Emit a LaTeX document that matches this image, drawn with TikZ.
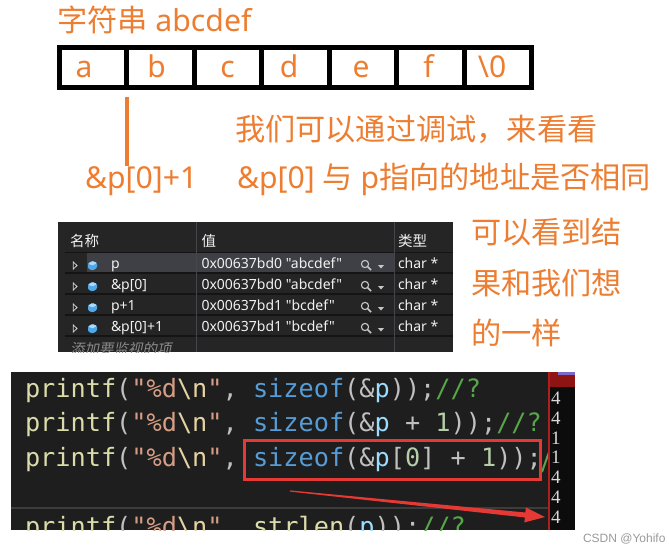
\documentclass[tikz,border=0pt]{standalone}
\usepackage{fontspec}
\setmainfont{Noto Sans}
\setmonofont{DejaVu Sans Mono}
\newfontfamily\uifont{Noto Sans}
\newfontfamily\zhfont{Noto Sans CJK SC}
\newfontfamily\zhit[FakeSlant=0.2]{Noto Sans CJK SC}
\newfontfamily\serifd{Liberation Serif}
\newfontfamily\csdnfont{Liberation Sans}
\usetikzlibrary{calc}
\definecolor{orangec}{HTML}{ED7D31}
\definecolor{wbg}{HTML}{252526}
\definecolor{whl}{HTML}{3F3F46}
\definecolor{wline}{HTML}{141414}
\definecolor{wsep}{HTML}{45454B}
\definecolor{wtext}{HTML}{F1F1F1}
\definecolor{wdim}{HTML}{8A8A8A}
\definecolor{iconb}{HTML}{4FA8E8}
\definecolor{iconl}{HTML}{A8DAFF}
\definecolor{magc}{HTML}{C8C8C8}
\definecolor{codebg}{HTML}{1E1E1E}
\definecolor{sepc}{HTML}{3C3C3C}
\definecolor{cfn}{HTML}{DCDCAA}
\definecolor{cpun}{HTML}{C0C0C0}
\definecolor{cstr}{HTML}{D69D85}
\definecolor{cesc}{HTML}{E6D3A3}
\definecolor{ckw}{HTML}{569CD6}
\definecolor{cvar}{HTML}{9CDCFE}
\definecolor{cnum}{HTML}{B5CEA8}
\definecolor{ccom}{HTML}{57A64A}
\definecolor{redc}{HTML}{E53935}
\definecolor{outbg}{HTML}{0C0C0C}
\definecolor{outred}{HTML}{8E1414}
\definecolor{outpur}{HTML}{7B68C8}
\definecolor{outline}{HTML}{B01E1E}
\definecolor{digc}{HTML}{D8D8D8}
\definecolor{csdng}{HTML}{9A9A9A}
\newcommand\zh[1]{{\zhfont #1}}
\newcommand\cc[2]{\textcolor{#1}{#2}}
\begin{document}
\begin{tikzpicture}[x=1pt,y=-1pt,
  every node/.style={inner sep=0pt,outer sep=0pt},
  otext/.style={text=orangec,font=\fontsize{30.2}{31}\selectfont,anchor=base west},
  letter/.style={text=orangec,font=\fontsize{30}{31}\selectfont,anchor=base},
  cellbox/.style={draw=black,line width=5pt,minimum width=67.43pt,minimum height=40pt},
  wtxt/.style={text=wtext,font=\uifont\fontsize{14}{14}\selectfont,anchor=base west},
  wzh/.style={text=wtext,font=\zhfont\fontsize{14.5}{14.5}\selectfont,anchor=base west},
  codetxt/.style={font=\ttfamily\fontsize{25.25}{26}\selectfont,anchor=base west},
  digit/.style={text=digc,font=\serifd\fontsize{19}{19}\selectfont,anchor=base west,text height=13pt,text depth=0pt},
  redbox/.style={draw=redc,line width=3pt,minimum width=296pt,minimum height=39pt}]
\useasboundingbox (0,0) rectangle (669,552);
\fill[white] (0,0) rectangle (669,552);

% ---- title and string cells
\node[otext] (title) at (57,31) {\zh{字符串} abcdef};
\foreach \i in {1,...,7} {
  \node[cellbox] (c\i) at ({59.5+67.43*(\i-0.5)},67.5) {};
}
\foreach \x/\t [count=\i] in {84/a,156.5/b,227.5/c,289/d,361/e,428.5/f,492/{\textbackslash 0}} {
  \node[letter] (l\i) at (\x,77) {\t};
}
\coordinate (ptrtop) at ($(c1.south east)+(0,9.5)$);
\coordinate (ptrbot) at ($(ptrtop)+(0,69)$);
\draw[orangec,line width=3.5pt] (ptrtop) -- (ptrbot);

\node[otext] (dbg1) at (235,140) {\zh{我们可以通过调试，来看看}};
\node[otext] (addr1) at (85,188) {\&p[0]+1};
\node[otext] (dbg2) at (237,188) {\&p[0] \zh{与} p\zh{指向的地址是否相同}};
\node[otext] (res1) at (471,243) {\zh{可以看到结}};
\node[otext] (res2) at (471,294) {\zh{果和我们想}};
\node[otext] (res3) at (471,344) {\zh{的一样}};

% ---- watch window
\begin{scope}
\clip (58,222) rectangle (453,352);
\fill[wbg] (58,222) rectangle (453,352);
\fill[whl] (87,253) rectangle (394,272.6);
\foreach \yy in {252.5,273,294,315,336} \draw[wline,line width=1.2pt] (65,\yy) -- (453,\yy);
\draw[wsep,line width=1pt] (196.7,222) -- (196.7,352);
\draw[wsep,line width=1pt] (394,222) -- (394,352);
\node[wzh] (hname) at (70,246) {名称};
\node[wzh] (hval) at (201.5,246) {值};
\node[wzh] (htype) at (398,246) {类型};
\foreach \yb/\nm/\val in {268/p/{0x00637bd0 "abcdef"},289/{\&p[0]}/{0x00637bd0 "abcdef"},310/{p+1}/{0x00637bd1 "bcdef"},331/{\&p[0]+1}/{0x00637bd1 "bcdef"}} {
  \draw[magc!80,line width=0.8pt] (73.3,\yb-6) -- (77,\yb-2.5) -- (73.3,\yb+1) -- cycle;
  \fill[iconb,rounded corners=1.2pt] (88,\yb-4.5) -- (92.5,\yb-7) -- (97,\yb-5) -- (97,\yb+0) -- (92.5,\yb+2.5) -- (88,\yb+0.5) -- cycle;
  \fill[iconl,rounded corners=0.8pt] (88,\yb-4.5) -- (92.5,\yb-7) -- (97,\yb-5) -- (92.5,\yb-2.5) -- cycle;
  \node[wtxt] (n\yb) at (111,\yb) {\nm};
  \node[wtxt] (v\yb) at (201.5,\yb) {\val};
  \draw[magc,line width=1.1pt] (365,\yb-4) circle (3.6);
  \draw[magc,line width=1.6pt] (367.8,\yb-1.2) -- (371,\yb+2);
  \fill[magc] (378,\yb-3) -- (384,\yb-3) -- (381,\yb+0.5) -- cycle;
  \node[wtxt] (t\yb) at (398,\yb) {char *};
}
\node[text=wdim,font=\zhit\fontsize{14.5}{14.5}\selectfont,anchor=base west] (addw) at (70,354) {添加要监视的项};
\end{scope}

% ---- code window
\fill[codebg] (11,372) rectangle (549,530);
\draw[sepc,line width=2.5pt] (11,508) -- (549,508);
\begin{scope}
\clip (11,372) rectangle (549,530);
\node[codetxt] (code1) at (25,397) {\cc{cfn}{printf}\cc{cpun}{(}\cc{cstr}{"\%d}\cc{cesc}{\textbackslash{}n}\cc{cstr}{"}\cc{cpun}{,\ }\cc{ckw}{sizeof}\cc{cpun}{(\&}\cc{cvar}{p}\cc{cpun}{));}\cc{ccom}{//?}};
\node[codetxt] (code2) at (25,431.5) {\cc{cfn}{printf}\cc{cpun}{(}\cc{cstr}{"\%d}\cc{cesc}{\textbackslash{}n}\cc{cstr}{"}\cc{cpun}{,\ }\cc{ckw}{sizeof}\cc{cpun}{(\&}\cc{cvar}{p}\cc{cpun}{\ +\ }\cc{cnum}{1}\cc{cpun}{));}\cc{ccom}{//?}};
\node[codetxt] (code3) at (25,466) {\cc{cfn}{printf}\cc{cpun}{(}\cc{cstr}{"\%d}\cc{cesc}{\textbackslash{}n}\cc{cstr}{"}\cc{cpun}{,\ }\cc{ckw}{sizeof}\cc{cpun}{(\&}\cc{cvar}{p}\cc{cpun}{[}\cc{cnum}{0}\cc{cpun}{]\ +\ }\cc{cnum}{1}\cc{cpun}{));}};
\draw[ccom,line width=2pt] (542,472) -- (549,452);
\node[codetxt] (code4) at (25,535) {\cc{cfn}{printf}\cc{cpun}{(}\cc{cstr}{"\%d}\cc{cesc}{\textbackslash{}n}\cc{cstr}{"}\cc{cpun}{,\ }\cc{cfn}{strlen}\cc{cpun}{(}\cc{cvar}{p}\cc{cpun}{));}\cc{ccom}{//?}};
\end{scope}
\node[redbox] (hl) at (392.5,460) {};

% ---- console output column
\fill[outbg] (549,372) rectangle (575,530);
\fill[outred] (549,372) rectangle (575,387);
\fill[outpur] (558,372) rectangle (575,375);
\draw[outline,line width=1.3pt] (549,372) -- (549,530);
\foreach \d/\yy [count=\k] in {4/404.5,4/424.3,1/444,1/463.9,4/483.7,4/503.5,4/523.3} {
  \node[digit] (o\k) at (551,\yy) {\d};
}

% ---- red arrow
\coordinate (atail) at (290,491);
\coordinate (ahead) at (545,517);
\coordinate (abase) at ($(ahead)!20pt!(atail)$);
\fill[redc] ($(atail)!0.6pt!90:(ahead)$) -- ($(abase)!2.5pt!90:(ahead)$) -- ($(abase)!7.5pt!90:(ahead)$) -- (ahead) -- ($(abase)!7.5pt!-90:(ahead)$) -- ($(abase)!2.5pt!-90:(ahead)$) -- ($(atail)!0.6pt!-90:(ahead)$) -- cycle;

\node[text=csdng,font=\csdnfont\fontsize{12}{12}\selectfont,anchor=base west] (wm) at (583,542) {CSDN @Yohifo};
\end{tikzpicture}
\end{document}
